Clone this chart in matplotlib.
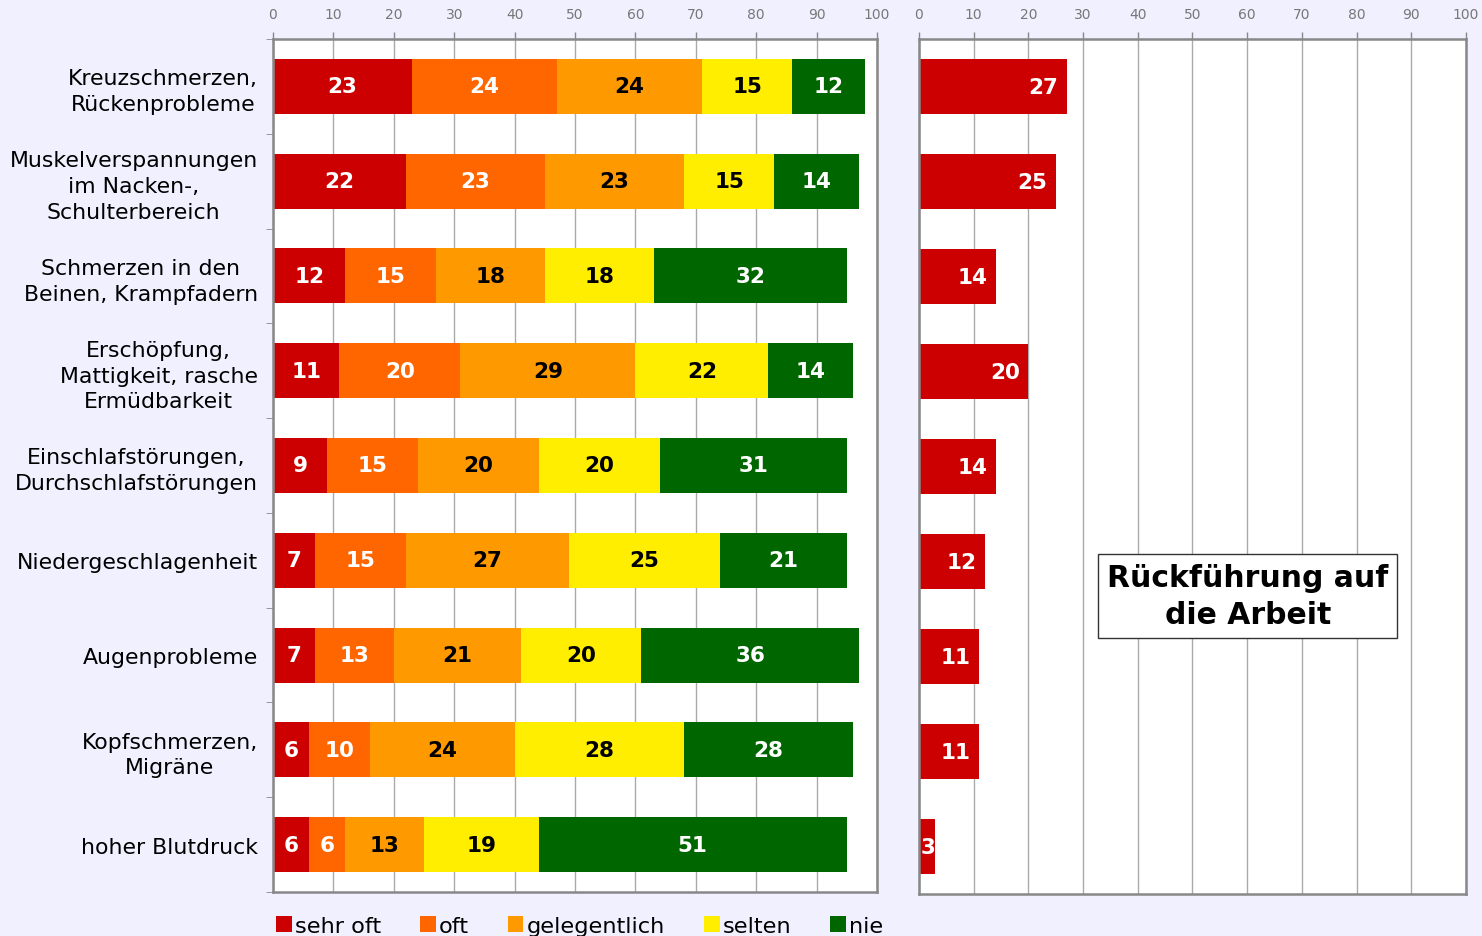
import numpy as np
import matplotlib
matplotlib.use("Agg")
import matplotlib.pyplot as plt
from matplotlib.patches import Patch

# data
categories = [
    "Kreuzschmerzen,\nRückenprobleme",
    "Muskelverspannungen\nim Nacken-,\nSchulterbereich",
    "Schmerzen in den\nBeinen, Krampfadern",
    "Erschöpfung,\nMattigkeit, rasche\nErmüdbarkeit",
    "Einschlafstörungen,\nDurchschlafstörungen",
    "Niedergeschlagenheit",
    "Augenprobleme",
    "Kopfschmerzen,\nMigräne",
    "hoher Blutdruck",
]
sehr_oft = [23, 22, 12, 11, 9, 7, 7, 6, 6]
oft = [24, 23, 15, 20, 15, 15, 13, 10, 6]
gelegentlich = [24, 23, 18, 29, 20, 27, 21, 24, 13]
selten = [15, 15, 18, 22, 20, 25, 20, 28, 19]
nie = [12, 14, 32, 14, 31, 21, 36, 28, 51]
rueckfuehrung = [27, 25, 14, 20, 14, 12, 11, 11, 3]

series_names = ["sehr oft", "oft", "gelegentlich", "selten", "nie"]
series = [sehr_oft, oft, gelegentlich, selten, nie]
colors = ["#CC0000", "#FF6600", "#FF9900", "#FFEE00", "#006600"]
text_colors = ["white", "white", "black", "black", "white"]

bg = "#F0F0FF"
fig = plt.figure(figsize=(14.82, 9.37), dpi=100, facecolor=bg)
ax1 = fig.add_axes([0.1842, 0.047, 0.4076, 0.9103])
ax2 = fig.add_axes([0.6201, 0.0448, 0.3691, 0.9125])

y = np.arange(len(categories))
bar_h = 0.58


def style_axis(ax):
    ax.set_facecolor("white")
    ax.set_xlim(0, 100)
    ax.set_ylim(len(categories) - 0.5, -0.5)
    ax.set_xticks(np.arange(0, 101, 10))
    ax.xaxis.tick_top()
    ax.tick_params(axis="x", colors="#888888", length=5, width=1, pad=8,
                   labelsize=10, labelcolor="#777777")
    for lab in ax.get_xticklabels():
        lab.set_family(["Liberation Sans Narrow", "DejaVu Sans"])
    ax.grid(axis="x", color="#AAAAAA", linewidth=1)
    ax.set_axisbelow(True)
    for s in ax.spines.values():
        s.set_color("#888888")
        s.set_linewidth(1.8)


# left chart: stacked bars
left = np.zeros(len(categories))
for vals, col, tcol in zip(series, colors, text_colors):
    vals = np.array(vals)
    ax1.barh(y, vals, left=left, height=bar_h, color=col)
    for yi, l, v in zip(y, left, vals):
        ax1.text(l + v / 2, yi, str(v), ha="center", va="center",
                 color=tcol, fontsize=15.5, fontweight="bold")
    left = left + vals

style_axis(ax1)
ax1.set_yticks(y)
ax1.set_yticklabels(categories, fontsize=15.8, multialignment="center",
                    linespacing=1.35)
ax1.set_yticks(np.arange(-0.5, len(categories), 1), minor=True)
ax1.tick_params(axis="y", which="major", length=0, pad=11)
ax1.tick_params(axis="y", which="minor", length=5, color="#888888")

# right chart
ax2.barh(y, rueckfuehrung, height=bar_h, color="#CC0000")
for yi, v in zip(y, rueckfuehrung):
    ax2.text(max(v - 1.5, 3.0), yi, str(v), ha="right", va="center",
             color="white", fontsize=15.5, fontweight="bold")
style_axis(ax2)
ax2.set_yticks([])
ax2.text(0.601, 0.349, "Rückführung auf\ndie Arbeit", transform=ax2.transAxes,
         ha="center", va="center", fontsize=21.5, fontweight="bold",
         multialignment="center", linespacing=1.35,
         bbox=dict(boxstyle="square,pad=0.3", facecolor="white",
                   edgecolor="#333333", linewidth=1))

# legend
handles = [Patch(facecolor=c, edgecolor="none") for c in colors]
fig.legend(handles, series_names, loc="lower left", ncol=5,
           bbox_to_anchor=(0.1786, -0.012), frameon=False, fontsize=16.2,
           handlelength=0.7, handleheight=0.7, handletextpad=0.15,
           columnspacing=1.72, borderpad=0)

fig.savefig("out.png", dpi=100, facecolor=bg)
